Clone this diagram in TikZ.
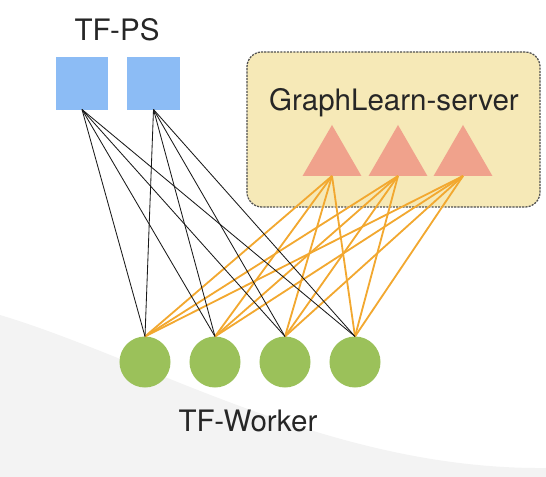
\documentclass[tikz,border=0pt]{standalone}
\usepackage{fontspec}
\setmainfont{TeX Gyre Heros}
\usepackage{tikz}
\usetikzlibrary{shapes.geometric}
\definecolor{psblue}{RGB}{140,188,245}
\definecolor{glsalmon}{RGB}{240,162,140}
\definecolor{glyellow}{RGB}{246,233,183}
\definecolor{wkgreen}{RGB}{155,193,90}
\definecolor{linkorange}{RGB}{242,168,48}
\definecolor{linkdark}{RGB}{25,25,25}
\definecolor{boxgray}{RGB}{80,80,80}
\definecolor{swoosh}{RGB}{243,243,243}
\tikzset{
  psnode/.style={rectangle, fill=psblue, minimum size=1.3cm,
    inner sep=0pt, outer sep=0pt},
  glnode/.style={regular polygon, regular polygon sides=3, fill=glsalmon,
    minimum size=1.7cm, inner sep=0pt, outer sep=0pt},
  wknode/.style={circle, fill=wkgreen, minimum size=1.275cm,
    inner sep=0pt, outer sep=0pt},
  glbox/.style={rectangle, draw=boxgray, fill=glyellow, rounded corners=0.375cm,
    dash pattern=on 1.5pt off 0.8pt, line width=0.9pt,
    minimum width=7.325cm, minimum height=3.875cm},
  label/.style={font=\fontsize{21}{25}\selectfont, text=black!85},
  pslink/.style={color=linkdark, line width=0.6pt},
  gllink/.style={color=linkorange, line width=1.3pt}
}

\begin{document}
\begin{tikzpicture}[x=0.025cm, y=-0.025cm]
  \useasboundingbox (0,0) rectangle (546,477);
  % background swoosh
  \fill[swoosh] (0,315) .. controls (150,360) and (330,470) .. (546,468)
    -- (546,477) -- (0,477) -- cycle;

  % GraphLearn-server box
  \node[glbox] (glb) at (393.5,129.5) {};
  \node[label] (gltext) at (394,103) {GraphLearn-server};

  % TF-PS
  \node[label] (pstext) at (117,30) {TF-PS};
  \node[psnode] (ps1) at (82,83.5) {};
  \node[psnode] (ps2) at (153.5,83.5) {};

  % GraphLearn servers
  \node[glnode] (gl1) at (332,159) {};
  \node[glnode] (gl2) at (398,159) {};
  \node[glnode] (gl3) at (463,159) {};

  % TF-Worker
  \node[wknode] (wk1) at (145,362) {};
  \node[wknode] (wk2) at (215,362) {};
  \node[wknode] (wk3) at (285,362) {};
  \node[wknode] (wk4) at (355,362) {};
  \node[label] (wktext) at (248,421) {TF-Worker};

  % links
  \foreach \g in {1,2,3}
    \foreach \w in {1,2,3,4}
      \draw[gllink] (gl\g.south) -- (wk\w.north);
  \foreach \p in {1,2}
    \foreach \w in {1,2,3,4}
      \draw[pslink] (ps\p.south) -- (wk\w.north);
\end{tikzpicture}
\end{document}
